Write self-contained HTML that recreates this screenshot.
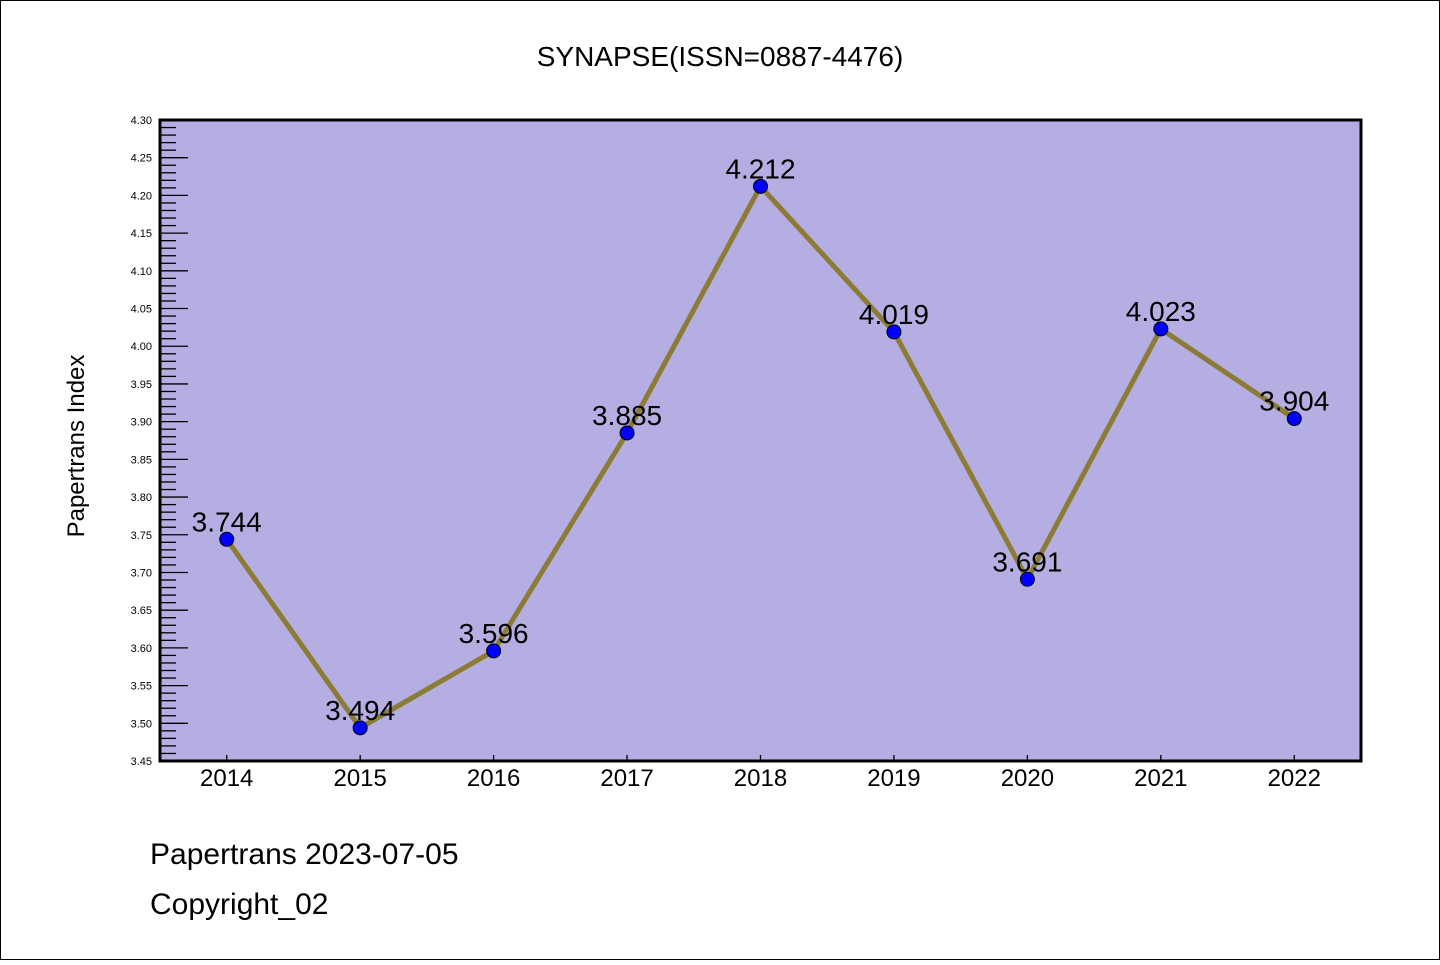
<!DOCTYPE html>
<html><head><meta charset="utf-8"><style>
body{margin:0;background:#fff}
svg text{font-family:"Liberation Sans","DejaVu Sans",sans-serif}
</style></head><body>
<svg width="1440" height="960" xmlns="http://www.w3.org/2000/svg" id="svg">
<rect x="0.5" y="0.5" width="1439" height="959" fill="#fff" stroke="#000"/>
<text x="720" y="66" font-size="28" text-anchor="middle" font-family="Liberation Mono, DejaVu Sans Mono, monospace">SYNAPSE(ISSN=0887-4476)</text>
<rect x="160" y="120" width="1201" height="641" fill="#b5aee2"/>
<g id="ticks"></g>
<g id="series"></g>
<rect x="160" y="120" width="1201" height="641" fill="none" stroke="#000" stroke-width="3"/>
<text transform="translate(84,446) rotate(-90)" font-size="24" text-anchor="middle" font-family="Liberation Mono, DejaVu Sans Mono, monospace">Papertrans Index</text>
<text x="150" y="864" font-size="30" font-family="Liberation Mono, DejaVu Sans Mono, monospace">Papertrans 2023-07-05</text>
<text x="150" y="914" font-size="30" font-family="Liberation Mono, DejaVu Sans Mono, monospace">Copyright_02</text>
</svg>
<script>
const categories=["2014","2015","2016","2017","2018","2019","2020","2021","2022"];
const values=[3.744,3.494,3.596,3.885,4.212,4.019,3.691,4.023,3.904];
const valueLabels=["3.744","3.494","3.596","3.885","4.212","4.019","3.691","4.023","3.904"];
const yTickLabels=["3.45","3.50","3.55","3.60","3.65","3.70","3.75","3.80","3.85","3.90","3.95","4.00","4.05","4.10","4.15","4.20","4.25","4.30"];
const NS="http://www.w3.org/2000/svg";
const L=160,R=1361,T=120,B=761,ymin=3.45,ymax=4.30;
const band=(R-L)/categories.length;
const x=i=>L+band*(i+0.5);
const y=v=>B-(v-ymin)/(ymax-ymin)*(B-T);
function mk(tag,attrs,parent){const e=document.createElementNS(NS,tag);for(const k in attrs)e.setAttribute(k,attrs[k]);parent.appendChild(e);return e;}
const tg=document.getElementById('ticks'),sg=document.getElementById('series');
for(let k=0;k<=85;k++){const v=ymin+k*0.01;const yy=y(v);const major=k%5===0;
 const t=mk('line',{x1:L,x2:L+(major?28:16),y1:yy,y2:yy,stroke:'#000','stroke-width':1.3},tg);
 }
yTickLabels.forEach(s=>{const t=mk('text',{x:152,y:y(parseFloat(s))+4,'font-size':11,'text-anchor':'end'},tg);t.textContent=s;
 });
categories.forEach((c,i)=>{const t=mk('line',{x1:x(i),x2:x(i),y1:B,y2:B-6,stroke:'#000','stroke-width':1.3},tg);
 
 const l=mk('text',{x:x(i),y:786,'font-size':24,'text-anchor':'middle'},tg);l.textContent=c;
 });
const pl=mk('polyline',{points:values.map((v,i)=>x(i)+','+y(v)).join(' '),fill:'none',stroke:'#8b7b35','stroke-width':5,'stroke-linejoin':'round'},sg);

values.forEach((v,i)=>{const c=mk('circle',{cx:x(i),cy:y(v),r:7,fill:'#0000ff',stroke:'#000','stroke-width':1},sg);
 
 const t=mk('text',{x:x(i),y:y(v)-8,'font-size':28,'text-anchor':'middle','font-family':'Liberation Mono, DejaVu Sans Mono, monospace'},sg);
 t.textContent=valueLabels[i];});
</script>
</body></html>
